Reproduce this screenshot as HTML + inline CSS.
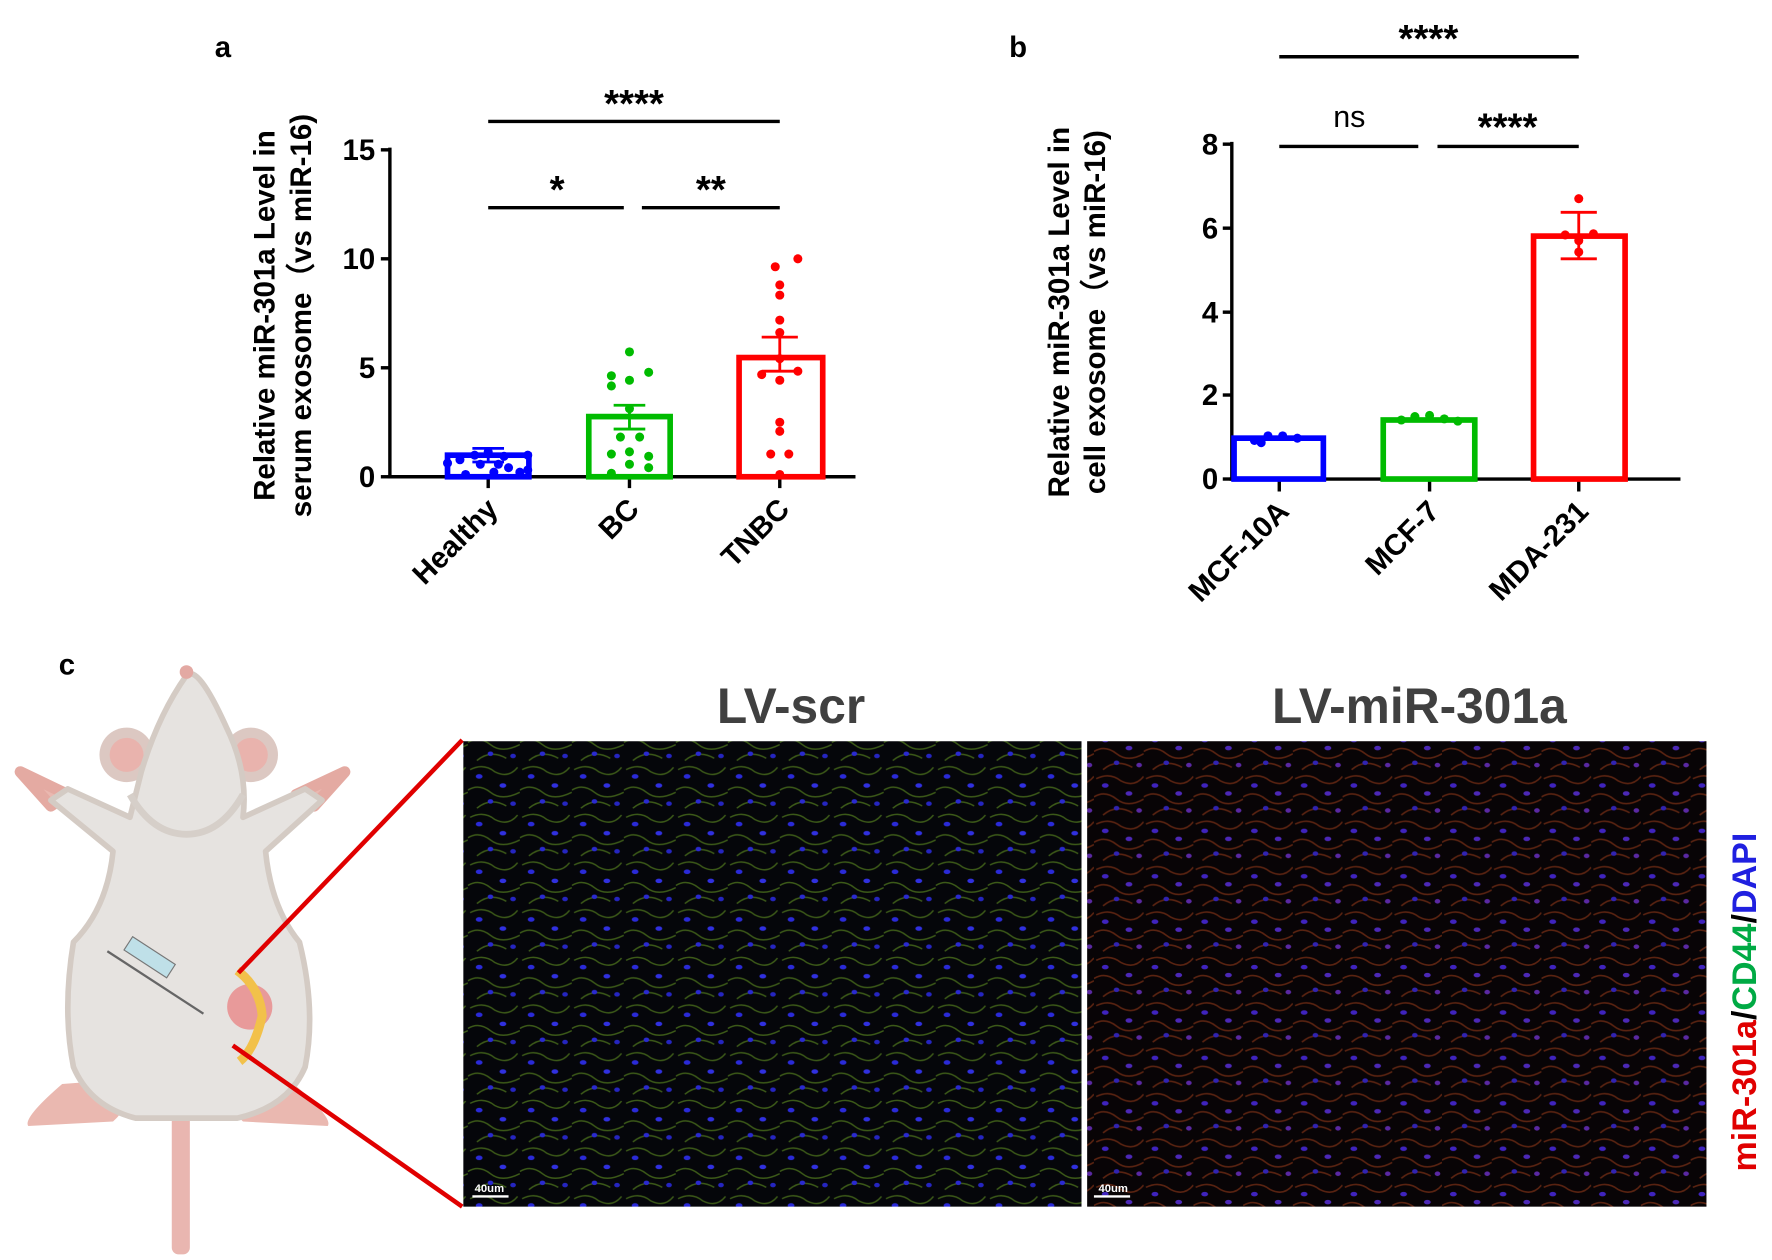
<!DOCTYPE html>
<html><head><meta charset="utf-8"><style>
html,body{margin:0;padding:0;background:#fff;width:1772px;height:1260px;overflow:hidden}
svg{display:block}
text{font-family:"Liberation Sans",Arial,sans-serif;font-weight:bold}
</style></head><body>
<svg width="1772" height="1260" viewBox="0 0 1568 1110" preserveAspectRatio="none" xmlns="http://www.w3.org/2000/svg">
<defs>
<pattern id="cellsA" width="46" height="42" patternUnits="userSpaceOnUse">
<rect width="46" height="42" fill="#05060a"/>
<path d="M2 6 Q14 0 24 8 Q36 14 44 4 M0 24 Q10 18 20 26 Q30 34 46 26 M8 40 Q20 30 34 38" stroke="#3c5a18" stroke-width="1.3" fill="none"/>
<ellipse cx="10" cy="12" rx="3" ry="2" fill="#2a2ad8"/>
<ellipse cx="31" cy="20" rx="3" ry="2" fill="#3030e0"/>
<ellipse cx="20" cy="34" rx="2.5" ry="2" fill="#2a2ad0"/>
<ellipse cx="40" cy="36" rx="2.5" ry="2" fill="#2525c0"/>
</pattern>
<pattern id="cellsB" width="44" height="40" patternUnits="userSpaceOnUse">
<rect width="44" height="40" fill="#0a0508"/>
<path d="M2 6 Q14 0 24 8 Q36 14 44 4 M0 22 Q10 16 20 24 Q30 32 44 24 M8 38 Q20 28 34 36" stroke="#6a2a14" stroke-width="1.4" fill="none"/>
<ellipse cx="10" cy="12" rx="3" ry="2" fill="#4a2ae0"/>
<ellipse cx="31" cy="19" rx="3" ry="2" fill="#5a30d8"/>
<ellipse cx="20" cy="32" rx="2.5" ry="2" fill="#3a2ad0"/>
<ellipse cx="40" cy="34" rx="2.5" ry="2" fill="#6a30c0"/>
</pattern>
</defs>

<!-- Panel a -->
<text x="190" y="50" font-size="26">a</text>
<g stroke="#000" stroke-width="3" fill="none">
<line x1="345" y1="130" x2="345" y2="421"/>
<line x1="343" y1="420" x2="757" y2="420"/>
<line x1="337" y1="132" x2="345" y2="132"/><line x1="337" y1="228" x2="345" y2="228"/>
<line x1="337" y1="324" x2="345" y2="324"/><line x1="337" y1="420" x2="345" y2="420"/>
<line x1="432" y1="420" x2="432" y2="430"/><line x1="557" y1="420" x2="557" y2="430"/><line x1="690" y1="420" x2="690" y2="430"/>
<line x1="432" y1="107" x2="690" y2="107"/>
<line x1="432" y1="183" x2="552" y2="183"/><line x1="568" y1="183" x2="690" y2="183"/>
</g>
<g font-size="26" text-anchor="end"><text x="332" y="141">15</text><text x="332" y="237">10</text><text x="332" y="333">5</text><text x="332" y="429">0</text></g>
<g font-size="34" text-anchor="middle"><text x="561" y="103">****</text><text x="493" y="179">*</text><text x="629" y="179">**</text></g>
<rect x="396" y="401" width="72" height="19" fill="none" stroke="#0000ff" stroke-width="5"/>
<rect x="521" y="367" width="72" height="53" fill="none" stroke="#00bb00" stroke-width="5"/>
<rect x="654" y="315" width="74" height="105" fill="none" stroke="#ff0000" stroke-width="5"/>
<g stroke-width="2.5"><path d="M418 395H446M432 395V407M418 407H446" stroke="#0000ff"/>
<path d="M543 357H571M557 357V378M543 378H571" stroke="#00bb00"/>
<path d="M674 297H706M690 297V327M674 327H706" stroke="#ff0000"/></g>
<g fill="#0000ff"><circle cx="396" cy="408" r="4"/><circle cx="407" cy="405" r="4"/><circle cx="425" cy="409" r="4"/><circle cx="441" cy="409" r="4"/><circle cx="450" cy="412" r="4"/><circle cx="467" cy="414" r="4"/><circle cx="412" cy="418" r="4"/><circle cx="437" cy="416" r="4"/><circle cx="460" cy="416" r="4"/><circle cx="420" cy="401" r="4"/><circle cx="432" cy="398" r="4"/><circle cx="446" cy="402" r="4"/><circle cx="467" cy="401" r="4"/></g>
<g fill="#00bb00"><circle cx="557" cy="310" r="4"/><circle cx="541" cy="331" r="4"/><circle cx="557" cy="335" r="4"/><circle cx="574" cy="328" r="4"/><circle cx="541" cy="340" r="4"/><circle cx="557" cy="360" r="4"/><circle cx="549" cy="385" r="4"/><circle cx="566" cy="385" r="4"/><circle cx="541" cy="400" r="4"/><circle cx="557" cy="398" r="4"/><circle cx="574" cy="402" r="4"/><circle cx="557" cy="409" r="4"/><circle cx="574" cy="412" r="4"/><circle cx="541" cy="417" r="4"/></g>
<g fill="#ff0000"><circle cx="706" cy="228" r="4"/><circle cx="686" cy="235" r="4"/><circle cx="690" cy="251" r="4"/><circle cx="690" cy="260" r="4"/><circle cx="690" cy="282" r="4"/><circle cx="690" cy="293" r="4"/><circle cx="690" cy="316" r="4"/><circle cx="674" cy="330" r="4"/><circle cx="706" cy="327" r="4"/><circle cx="690" cy="335" r="4"/><circle cx="690" cy="372" r="4"/><circle cx="690" cy="380" r="4"/><circle cx="682" cy="400" r="4"/><circle cx="698" cy="400" r="4"/><circle cx="690" cy="418" r="4"/></g>
<text transform="translate(243,278) rotate(-90)" font-size="26" text-anchor="middle">Relative miR-301a Level in</text>
<text transform="translate(275,278) rotate(-90)" font-size="26" text-anchor="middle">serum exosome（vs miR-16)</text>
<g font-size="26" text-anchor="end">
<text transform="translate(442,450) rotate(-45)">Healthy</text>
<text transform="translate(567,450) rotate(-45)">BC</text>
<text transform="translate(700,450) rotate(-45)">TNBC</text></g>

<!-- Panel b -->
<text x="893" y="50" font-size="26">b</text>
<g stroke="#000" stroke-width="3" fill="none">
<line x1="1090" y1="125" x2="1090" y2="423"/>
<line x1="1088" y1="422" x2="1487" y2="422"/>
<line x1="1082" y1="127" x2="1090" y2="127"/><line x1="1082" y1="201" x2="1090" y2="201"/><line x1="1082" y1="275" x2="1090" y2="275"/><line x1="1082" y1="348" x2="1090" y2="348"/><line x1="1082" y1="422" x2="1090" y2="422"/>
<line x1="1132" y1="422" x2="1132" y2="433"/><line x1="1265" y1="422" x2="1265" y2="433"/><line x1="1397" y1="422" x2="1397" y2="433"/>
<line x1="1132" y1="50" x2="1397" y2="50"/>
<line x1="1132" y1="129" x2="1255" y2="129"/><line x1="1272" y1="129" x2="1397" y2="129"/>
</g>
<g font-size="26" text-anchor="end"><text x="1078" y="136">8</text><text x="1078" y="210">6</text><text x="1078" y="284">4</text><text x="1078" y="357">2</text><text x="1078" y="431">0</text></g>
<g font-size="34" text-anchor="middle"><text x="1264" y="46">****</text><text x="1334" y="124">****</text></g>
<text x="1194" y="112" font-size="27" text-anchor="middle" style="font-weight:normal">ns</text>
<rect x="1092" y="386" width="79" height="36" fill="none" stroke="#0000ff" stroke-width="5"/>
<rect x="1224" y="370" width="81" height="52" fill="none" stroke="#00bb00" stroke-width="5"/>
<rect x="1357" y="208" width="81" height="214" fill="none" stroke="#ff0000" stroke-width="5"/>
<path d="M1381 187H1413M1397 187V228M1381 228H1413" stroke="#ff0000" stroke-width="2.5"/>
<g fill="#0000ff"><circle cx="1110" cy="388" r="4"/><circle cx="1122" cy="384" r="4"/><circle cx="1135" cy="384" r="4"/><circle cx="1148" cy="386" r="4"/><circle cx="1116" cy="390" r="4"/></g>
<g fill="#00bb00"><circle cx="1240" cy="370" r="4"/><circle cx="1252" cy="367" r="4"/><circle cx="1265" cy="366" r="4"/><circle cx="1278" cy="369" r="4"/><circle cx="1290" cy="371" r="4"/></g>
<g fill="#ff0000"><circle cx="1397" cy="175" r="4"/><circle cx="1385" cy="207" r="4"/><circle cx="1410" cy="206" r="4"/><circle cx="1397" cy="212" r="4"/><circle cx="1397" cy="222" r="4"/></g>
<text transform="translate(946,275) rotate(-90)" font-size="26" text-anchor="middle">Relative miR-301a Level in</text>
<text transform="translate(978,275) rotate(-90)" font-size="26" text-anchor="middle">cell exosome（vs miR-16)</text>
<g font-size="26" text-anchor="end">
<text transform="translate(1142,452) rotate(-45)">MCF-10A</text>
<text transform="translate(1275,452) rotate(-45)">MCF-7</text>
<text transform="translate(1407,452) rotate(-45)">MDA-231</text></g>

<!-- Panel c -->
<text x="52" y="594" font-size="26">c</text>
<g>
<rect x="152" y="960" width="16" height="145" rx="6" fill="#e9b6b0"/>
<path d="M55 955 Q20 985 25 992 L100 988 Q115 975 120 950 Z" fill="#eab8b0"/>
<path d="M260 955 Q295 985 290 992 L215 988 Q200 975 195 950 Z" fill="#eab8b0"/>
<path d="M18 680 L45 710 L60 700 Z M305 680 L278 710 L262 700 Z" fill="#eab8b0" stroke="#e4aaa2" stroke-width="10" stroke-linejoin="round"/>
<circle cx="112" cy="665" r="24" fill="#dcc8c2"/><circle cx="112" cy="665" r="15" fill="#e9b3ad"/>
<circle cx="222" cy="665" r="24" fill="#dcc8c2"/><circle cx="222" cy="665" r="15" fill="#e9b3ad"/>
<path d="M45 705 L100 750 Q95 800 65 830 Q55 890 65 940 Q80 975 120 985 L210 985 Q255 975 270 940 Q280 890 265 830 Q240 800 235 750 L285 705 L270 695 L215 720 Q220 680 200 640 Q175 585 165 595 Q140 630 125 680 Q120 700 115 720 L60 695 Z" fill="#e6e3e0" stroke="#d4cbc4" stroke-width="5" stroke-linejoin="round"/>
<path d="M115 700 Q135 735 165 735 Q195 735 215 700" fill="none" stroke="#d6cfc9" stroke-width="6"/>
<circle cx="165" cy="592" r="6" fill="#e3a9a3"/>
<line x1="95" y1="838" x2="180" y2="893" stroke="#666" stroke-width="2"/>
<rect x="110" y="836" width="45" height="14" fill="#bfe0e8" stroke="#777" transform="rotate(33 132 843)"/>
<circle cx="221" cy="887" r="20" fill="#e89a9a"/>
<path d="M210 855 Q230 870 232 895 Q225 925 212 935" fill="none" stroke="#f2c14a" stroke-width="8"/>
</g>
<g stroke="#e00000" stroke-width="4"><line x1="211" y1="857" x2="409" y2="652"/><line x1="206" y1="921" x2="409" y2="1063"/></g>
<text x="700" y="637" font-size="44" text-anchor="middle" fill="#404040">LV-scr</text>
<text x="1256" y="637" font-size="44" text-anchor="middle" fill="#404040">LV-miR-301a</text>
<rect x="410" y="653" width="547" height="410" fill="url(#cellsA)"/>
<rect x="962" y="653" width="548" height="410" fill="url(#cellsB)"/>
<rect x="962" y="653" width="548" height="410" fill="#000" opacity="0.15"/>
<g stroke="#fff" stroke-width="2"><line x1="418" y1="1054" x2="450" y2="1054"/><line x1="968" y1="1054" x2="1000" y2="1054"/></g>
<g font-size="10" fill="#fff" style="font-weight:normal"><text x="420" y="1050">40um</text><text x="972" y="1050">40um</text></g>
<text transform="translate(1554,1032) rotate(-90)" font-size="30"><tspan fill="#e00000">miR-301a</tspan><tspan fill="#000">/</tspan><tspan fill="#00aa44">CD44</tspan><tspan fill="#000">/</tspan><tspan fill="#2020e0">DAPI</tspan></text>
</svg>
</body></html>
